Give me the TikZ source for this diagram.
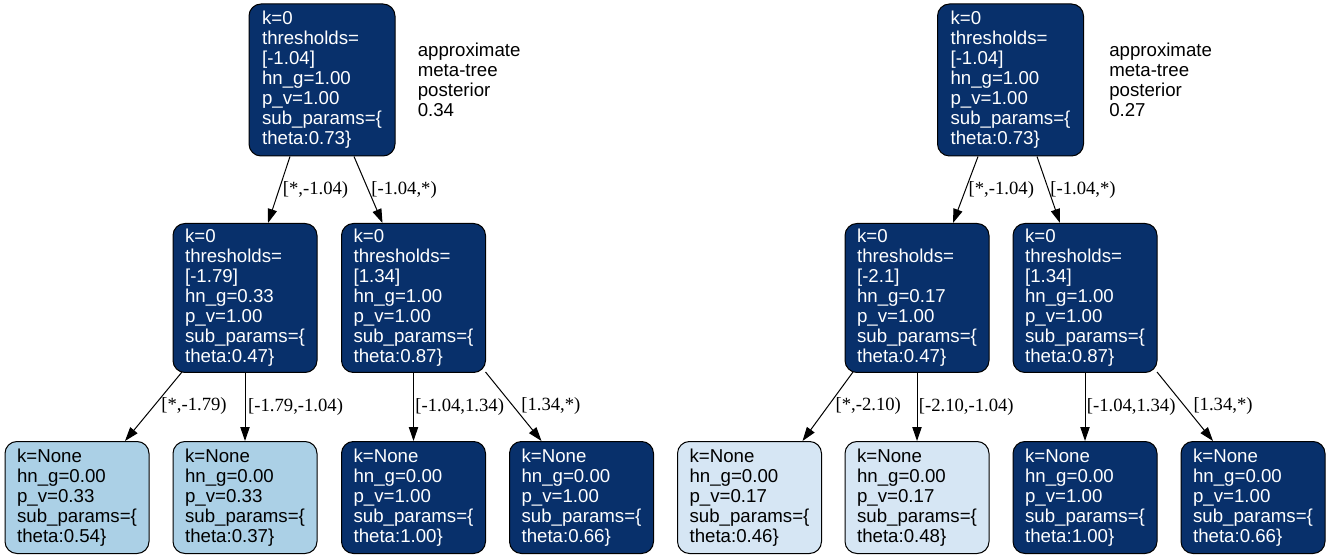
\documentclass[tikz,border=0pt]{standalone}
\usepackage{fontspec}
\setmainfont{Liberation Serif}
\setsansfont{Liberation Sans}
\usetikzlibrary{arrows.meta, positioning, calc}
\definecolor{navy}{HTML}{08306B}
\definecolor{paleblue}{HTML}{ABD0E6}
\definecolor{iceblue}{HTML}{D6E6F4}

\begin{document}
\begin{tikzpicture}[
    x=0.75pt, y=-0.75pt,
    box/.style={rectangle, draw=black, line width=0.75pt, rounded corners=9pt, align=left, inner xsep=7pt, inner ysep=1pt, minimum width=108pt, font=\sffamily\fontsize{14}{15}\selectfont, execute at begin node={\rule{0pt}{14.5pt}}},
    inner/.style={box, fill=navy, text=white, minimum height=111.75pt},
    leaf/.style={box, minimum height=84pt},
    edge/.style={-{Triangle[length=10.5pt,width=7pt]}, line width=0.75pt},
    lbl/.style={midway, anchor=west, inner sep=1pt, font=\fontsize{14}{15}\selectfont},
    note/.style={align=left, inner sep=0pt, font=\sffamily\fontsize{14}{15}\selectfont}
]
    \useasboundingbox (0,0) rectangle (1331,559);

    % left meta-tree
    \node[inner, minimum width=109.5pt, minimum height=114pt] (rootA) at (322,80) {k=0\\thresholds=\\{[-1.04]}\\hn\_g=1.00\\p\_v=1.00\\sub\_params=\{\\theta:0.73\}};
    \node[note, right=16.5pt of rootA] (postA) {approximate\\meta-tree\\posterior\\0.34};
    \node[inner] (midAL) at (245,298) {k=0\\thresholds=\\{[-1.79]}\\hn\_g=0.33\\p\_v=1.00\\sub\_params=\{\\theta:0.47\}};
    \node[inner] (midAR) at (413.5,298) {k=0\\thresholds=\\{[1.34]}\\hn\_g=1.00\\p\_v=1.00\\sub\_params=\{\\theta:0.87\}};
    \node[leaf, fill=paleblue] (leafA1) at (77,497.5) {k=None\\hn\_g=0.00\\p\_v=0.33\\sub\_params=\{\\theta:0.54\}};
    \node[leaf, fill=paleblue] (leafA2) at (245,497.5) {k=None\\hn\_g=0.00\\p\_v=0.33\\sub\_params=\{\\theta:0.37\}};
    \node[leaf, fill=navy, text=white] (leafA3) at (413.5,497.5) {k=None\\hn\_g=0.00\\p\_v=1.00\\sub\_params=\{\\theta:1.00\}};
    \node[leaf, fill=navy, text=white] (leafA4) at (581.5,497.5) {k=None\\hn\_g=0.00\\p\_v=1.00\\sub\_params=\{\\theta:0.66\}};

    \draw[edge] ($(rootA.south)+(-32,0)$) -- node[lbl, xshift=1.5pt] (eA1) {[*,-1.04)} ($(midAL.north)+(23,0)$);
    \draw[edge] ($(rootA.south)+(32,0)$) -- node[lbl, xshift=1pt] (eA2) {[-1.04,*)} ($(midAR.north)+(-31,0)$);
    \draw[edge] ($(midAL.south)+(-63,-1)$) -- node[lbl, xshift=4.5pt] (eA3) {[*,-1.79)} ($(leafA1.north)+(48,0)$);
    \draw[edge] (midAL) -- node[lbl, xshift=1pt] (eA4) {[-1.79,-1.04)} (leafA2);
    \draw[edge] (midAR) -- node[lbl] (eA5) {[-1.04,1.34)} (leafA3);
    \draw[edge] ($(midAR.south)+(72,-1)$) -- node[lbl, xshift=4.5pt] (eA6) {[1.34,*)} ($(leafA4.north)+(-40,0)$);

    % right meta-tree
    \node[inner, minimum width=109.5pt, minimum height=114pt] (rootB) at (1010.5,80) {k=0\\thresholds=\\{[-1.04]}\\hn\_g=1.00\\p\_v=1.00\\sub\_params=\{\\theta:0.73\}};
    \node[note, right=18.75pt of rootB] (postB) {approximate\\meta-tree\\posterior\\0.27};
    \node[inner] (midBL) at (917,298) {k=0\\thresholds=\\{[-2.1]}\\hn\_g=0.17\\p\_v=1.00\\sub\_params=\{\\theta:0.47\}};
    \node[inner] (midBR) at (1085,298) {k=0\\thresholds=\\{[1.34]}\\hn\_g=1.00\\p\_v=1.00\\sub\_params=\{\\theta:0.87\}};
    \node[leaf, fill=iceblue] (leafB1) at (749.5,497.5) {k=None\\hn\_g=0.00\\p\_v=0.17\\sub\_params=\{\\theta:0.46\}};
    \node[leaf, fill=iceblue] (leafB2) at (917,497.5) {k=None\\hn\_g=0.00\\p\_v=0.17\\sub\_params=\{\\theta:0.48\}};
    \node[leaf, fill=navy, text=white] (leafB3) at (1085,497.5) {k=None\\hn\_g=0.00\\p\_v=1.00\\sub\_params=\{\\theta:1.00\}};
    \node[leaf, fill=navy, text=white] (leafB4) at (1253,497.5) {k=None\\hn\_g=0.00\\p\_v=1.00\\sub\_params=\{\\theta:0.66\}};

    \draw[edge] ($(rootB.south)+(-32.5,0)$) -- node[lbl, xshift=1pt] (eB1) {[*,-1.04)} ($(midBL.north)+(36,0)$);
    \draw[edge] ($(rootB.south)+(26.5,0)$) -- node[lbl] (eB2) {[-1.04,*)} ($(midBR.north)+(-25,0)$);
    \draw[edge] ($(midBL.south)+(-64,-1)$) -- node[lbl, xshift=4.5pt] (eB3) {[*,-2.10)} ($(leafB1.north)+(53,0)$);
    \draw[edge] (midBL) -- node[lbl] (eB4) {[-2.10,-1.04)} (leafB2);
    \draw[edge] (midBR) -- node[lbl] (eB5) {[-1.04,1.34)} (leafB3);
    \draw[edge] ($(midBR.south)+(72,-1)$) -- node[lbl, xshift=5pt] (eB6) {[1.34,*)} ($(leafB4.north)+(-40,0)$);
\end{tikzpicture}
\end{document}
